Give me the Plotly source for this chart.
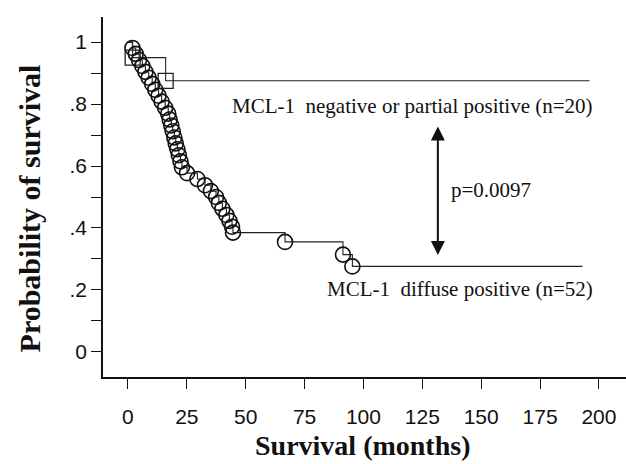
import plotly.graph_objects as go

# Kaplan-Meier data
neg_times = [2.0, 16.0]
neg_surv = [0.95, 0.875]
neg_end = 196.0

pos_times = [1.9, 3.3, 4.7, 6.1, 7.4, 8.8, 10.3, 11.6, 13.0, 14.3, 15.8, 17.1,
             17.7, 18.4, 19.0, 19.7, 20.3, 21.0, 21.6, 22.3, 22.9, 25.1, 29.5,
             32.7, 35.2, 37.4, 38.6, 40.1, 41.8, 43.1, 44.2, 44.6,
             66.7, 91.3, 95.3]
pos_surv = [0.981, 0.962, 0.942, 0.923, 0.904, 0.885, 0.865, 0.846, 0.827, 0.808,
            0.788, 0.769, 0.750, 0.731, 0.712, 0.692, 0.673, 0.654, 0.635, 0.615,
            0.596, 0.577, 0.558, 0.538, 0.519, 0.500, 0.481, 0.462, 0.442, 0.423,
            0.404, 0.385, 0.355, 0.314, 0.276]
pos_end = 193.0

x_ticks = [0, 25, 50, 75, 100, 125, 150, 175, 200]
y_ticks = [0, 0.1, 0.2, 0.3, 0.4, 0.5, 0.6, 0.7, 0.8, 0.9, 1.0]
y_ticktext = ["0", "", ".2", "", ".4", "", ".6", "", ".8", "", "1"]

label_neg = "MCL-1  negative or partial positive (n=20)"
label_pos = "MCL-1  diffuse positive (n=52)"
p_text = "p=0.0097"

fig = go.Figure()

# step lines
fig.add_trace(go.Scatter(
    x=[0] + neg_times + [neg_end], y=[1.0] + neg_surv + [neg_surv[-1]],
    mode="lines", line=dict(shape="hv", color="#222", width=1.1),
    showlegend=False, hoverinfo="skip"))
fig.add_trace(go.Scatter(
    x=[0] + pos_times + [pos_end], y=[1.0] + pos_surv + [pos_surv[-1]],
    mode="lines", line=dict(shape="hv", color="#222", width=1.1),
    showlegend=False, hoverinfo="skip"))

# event markers
fig.add_trace(go.Scatter(
    x=neg_times, y=neg_surv, mode="markers",
    marker=dict(symbol="square-open", size=15, color="#222", line=dict(width=1.3, color="#222")),
    showlegend=False))
fig.add_trace(go.Scatter(
    x=pos_times, y=pos_surv, mode="markers",
    marker=dict(symbol="circle-open", size=15, color="#111", line=dict(width=1.6, color="#111")),
    showlegend=False))

serif = "Liberation Serif"
annotations = [
    dict(x=198.3, y=0.795, xref="x", yref="y", text=label_neg, showarrow=False,
         xanchor="right", yanchor="middle",
         font=dict(family=serif, size=21, color="#111")),
    dict(x=198.3, y=0.203, xref="x", yref="y", text=label_pos, showarrow=False,
         xanchor="right", yanchor="middle",
         font=dict(family=serif, size=21, color="#111")),
    dict(x=136.3, y=0.523, xref="x", yref="y", text=p_text, showarrow=False,
         xanchor="left", yanchor="middle",
         font=dict(family=serif, size=21, color="#111")),
    dict(x=131.6, y=0.313, xref="x", yref="y", ax=131.6, ay=0.732, axref="x", ayref="y",
         text="", showarrow=True, arrowside="end+start", arrowhead=2, startarrowhead=2,
         arrowsize=1.4, startarrowsize=1.4, arrowwidth=2, arrowcolor="#111",
         standoff=0, startstandoff=0),
    dict(x=-0.141, y=0.469, xref="paper", yref="paper", text="<b>Probability of survival</b>",
         textangle=-90, showarrow=False, xanchor="center", yanchor="middle",
         font=dict(family=serif, size=30, color="#111")),
    dict(x=0.497, y=-0.190, xref="paper", yref="paper", text="<b>Survival (months)</b>",
         showarrow=False, xanchor="center", yanchor="middle",
         font=dict(family=serif, size=28, color="#111")),
]

fig.update_layout(
    width=626, height=464,
    margin=dict(l=103, r=0, t=17, b=87),
    paper_bgcolor="white", plot_bgcolor="white",
    annotations=annotations,
    xaxis=dict(range=[-10.6, 211.5], tickvals=x_ticks, ticktext=[str(v) for v in x_ticks],
               showgrid=False, zeroline=False, showline=True, linecolor="#111", linewidth=1.5,
               ticks="outside", ticklen=10, tickwidth=1.3, tickcolor="#111",
               ticklabelstandoff=10,
               tickfont=dict(family="Liberation Sans", size=21, color="#111"),
               fixedrange=True),
    yaxis=dict(range=[-0.081, 1.081], tickvals=y_ticks, ticktext=y_ticktext,
               showgrid=False, zeroline=False, showline=True, linecolor="#111", linewidth=1.5,
               ticks="outside", ticklen=10, tickwidth=1.3, tickcolor="#111",
               tickfont=dict(family="Liberation Sans", size=21, color="#111"),
               fixedrange=True),
)

fig.write_html("out.html")
